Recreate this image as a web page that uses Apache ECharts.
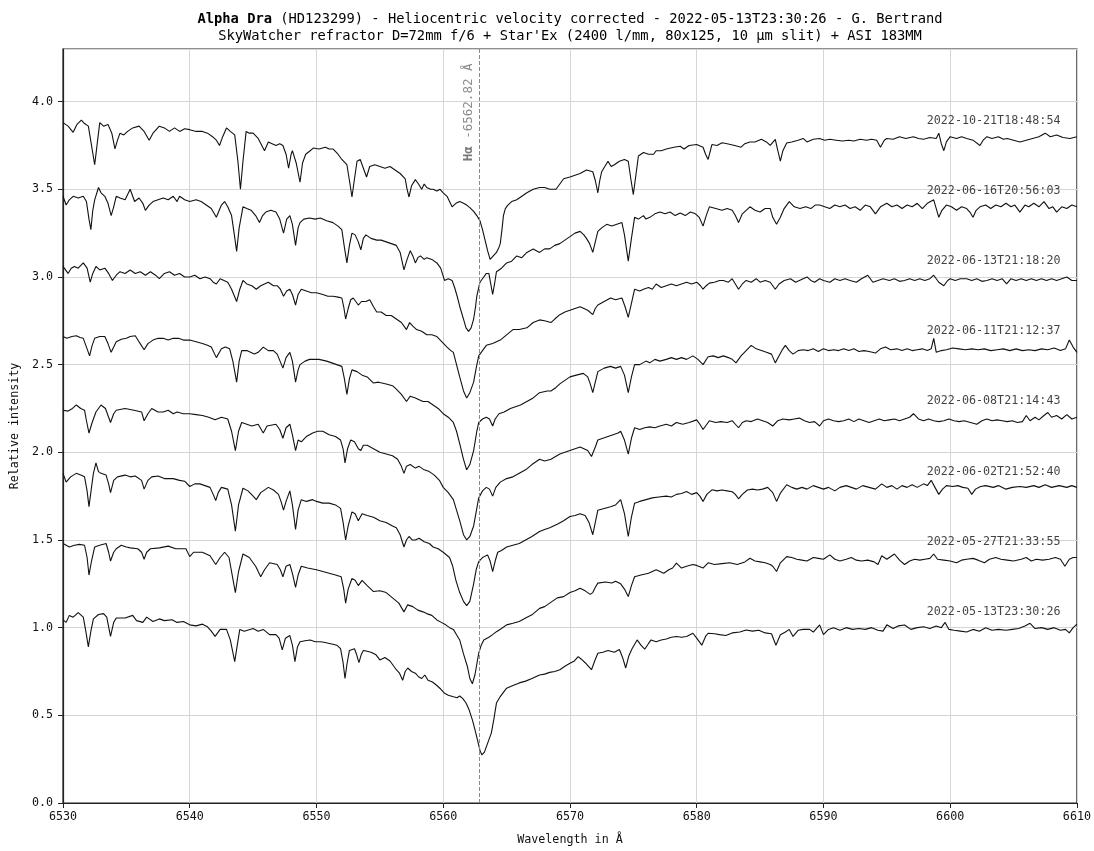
<!DOCTYPE html>
<html>
<head>
<meta charset="utf-8">
<script src="https://cdn.jsdelivr.net/npm/echarts@6/dist/echarts.min.js"></script>
<style>
html,body{margin:0;padding:0;background:#fff;}
#chart{width:1094px;height:851px;}
</style>
</head>
<body>
<div id="chart"></div>
<script>
// ---- data (wavelength in Å, relative intensity) ----
const dates = ["2022-10-21T18:48:54","2022-06-16T20:56:03","2022-06-13T21:18:20","2022-06-11T21:12:37","2022-06-08T21:14:43","2022-06-02T21:52:40","2022-05-27T21:33:55","2022-05-13T23:30:26"];
const offsets = [2.8,2.4,2.0,1.6,1.2,0.8,0.4,0.0];
const xTicks = [6530,6540,6550,6560,6570,6580,6590,6600,6610];
const yTicks = [0,0.5,1,1.5,2,2.5,3,3.5,4];
const halpha = 6562.82;

const spec_2022_10_21 = [[6530,3.88],[6530.4,3.86],[6530.8,3.825],[6531.1,3.87],[6531.45,3.894],[6531.7,3.875],[6532.0,3.86],[6532.25,3.75],[6532.5,3.64],[6532.7,3.76],[6532.9,3.88],[6533.2,3.86],[6533.55,3.87],[6533.85,3.82],[6534.1,3.73],[6534.3,3.78],[6534.5,3.82],[6534.8,3.81],[6535.1,3.83],[6535.5,3.85],[6536.0,3.86],[6536.4,3.83],[6536.8,3.78],[6537.1,3.82],[6537.6,3.86],[6538.0,3.85],[6538.4,3.83],[6538.8,3.85],[6539.2,3.83],[6539.6,3.845],[6540.0,3.84],[6540.5,3.83],[6541.0,3.83],[6541.4,3.82],[6541.8,3.80],[6542.1,3.78],[6542.35,3.75],[6542.6,3.80],[6542.9,3.85],[6543.2,3.83],[6543.55,3.81],[6543.8,3.66],[6544.0,3.50],[6544.2,3.66],[6544.45,3.83],[6544.7,3.82],[6545.0,3.82],[6545.4,3.79],[6545.9,3.72],[6546.2,3.77],[6546.5,3.76],[6546.8,3.75],[6547.1,3.76],[6547.35,3.75],[6547.6,3.70],[6547.8,3.62],[6548.0,3.70],[6548.1,3.72],[6548.4,3.65],[6548.7,3.54],[6548.9,3.65],[6549.15,3.70],[6549.5,3.72],[6549.75,3.735],[6550.2,3.73],[6550.7,3.74],[6551.0,3.73],[6551.3,3.73],[6551.7,3.70],[6552.0,3.67],[6552.4,3.64],[6552.6,3.55],[6552.8,3.456],[6553.0,3.56],[6553.2,3.66],[6553.45,3.67],[6553.7,3.62],[6553.95,3.57],[6554.2,3.63],[6554.6,3.64],[6555.0,3.63],[6555.4,3.62],[6555.8,3.63],[6556.2,3.61],[6556.6,3.59],[6557.0,3.56],[6557.15,3.50],[6557.3,3.456],[6557.5,3.52],[6557.8,3.555],[6558.05,3.53],[6558.3,3.50],[6558.5,3.53],[6558.7,3.51],[6559.0,3.50],[6559.2,3.50],[6559.5,3.49],[6559.75,3.50],[6560.0,3.48],[6560.3,3.46],[6560.5,3.43],[6560.7,3.40],[6561.0,3.42],[6561.3,3.43],[6561.6,3.42],[6561.85,3.41],[6562.1,3.395],[6562.4,3.374],[6562.65,3.35],[6562.9,3.32],[6563.1,3.27],[6563.3,3.21],[6563.5,3.15],[6563.7,3.10],[6563.95,3.12],[6564.2,3.14],[6564.4,3.17],[6564.5,3.19],[6564.65,3.28],[6564.75,3.35],[6564.9,3.39],[6565.1,3.41],[6565.4,3.43],[6565.8,3.44],[6566.2,3.46],[6566.6,3.48],[6567.1,3.50],[6567.6,3.51],[6568.0,3.51],[6568.4,3.50],[6568.9,3.50],[6569.2,3.53],[6569.5,3.56],[6570.0,3.57],[6570.4,3.58],[6570.8,3.59],[6571.3,3.61],[6571.8,3.60],[6572.0,3.55],[6572.2,3.48],[6572.35,3.55],[6572.5,3.60],[6573.0,3.66],[6573.25,3.63],[6573.5,3.64],[6573.9,3.66],[6574.3,3.67],[6574.6,3.66],[6574.8,3.56],[6575.0,3.47],[6575.2,3.58],[6575.4,3.69],[6575.8,3.71],[6576.2,3.70],[6576.6,3.70],[6576.8,3.72],[6577.2,3.72],[6577.6,3.73],[6578.2,3.74],[6578.7,3.745],[6579.0,3.73],[6579.4,3.75],[6580.0,3.755],[6580.5,3.74],[6580.7,3.70],[6580.9,3.67],[6581.2,3.755],[6581.6,3.75],[6582.0,3.765],[6582.4,3.76],[6583.0,3.75],[6583.5,3.74],[6583.8,3.76],[6584.2,3.77],[6584.6,3.77],[6585.1,3.785],[6585.5,3.77],[6585.8,3.75],[6586.2,3.785],[6586.4,3.72],[6586.6,3.66],[6586.8,3.72],[6587.1,3.764],[6587.5,3.77],[6588.0,3.78],[6588.4,3.79],[6588.7,3.77],[6589.2,3.785],[6589.7,3.79],[6590.1,3.78],[6590.5,3.785],[6591.0,3.78],[6591.5,3.775],[6592.0,3.78],[6592.4,3.775],[6592.9,3.785],[6593.4,3.78],[6593.8,3.785],[6594.2,3.78],[6594.5,3.74],[6594.8,3.78],[6595.0,3.79],[6595.5,3.785],[6596.0,3.80],[6596.5,3.79],[6597.1,3.80],[6597.5,3.79],[6597.9,3.785],[6598.4,3.795],[6598.9,3.79],[6599.1,3.82],[6599.3,3.76],[6599.5,3.72],[6599.7,3.77],[6600.0,3.80],[6600.5,3.79],[6600.9,3.80],[6601.3,3.79],[6601.8,3.78],[6602.35,3.75],[6602.6,3.78],[6602.9,3.80],[6603.3,3.79],[6603.8,3.80],[6604.2,3.785],[6604.5,3.79],[6605.0,3.78],[6605.5,3.77],[6606.0,3.78],[6606.5,3.79],[6607.0,3.80],[6607.5,3.82],[6607.9,3.80],[6608.4,3.81],[6608.9,3.795],[6609.45,3.79],[6610,3.80]];

const spec_2022_06_16 = [[6530,3.46],[6530.25,3.41],[6530.5,3.44],[6530.8,3.46],[6531.2,3.45],[6531.6,3.46],[6531.85,3.43],[6532.05,3.33],[6532.2,3.27],[6532.35,3.38],[6532.5,3.44],[6532.8,3.51],[6533.0,3.48],[6533.3,3.46],[6533.55,3.42],[6533.8,3.35],[6534.0,3.40],[6534.2,3.46],[6534.5,3.45],[6534.9,3.44],[6535.3,3.50],[6535.65,3.43],[6536.0,3.45],[6536.3,3.42],[6536.5,3.38],[6536.8,3.41],[6537.1,3.43],[6537.5,3.44],[6537.9,3.45],[6538.3,3.44],[6538.7,3.46],[6539.0,3.43],[6539.2,3.46],[6539.6,3.44],[6540.0,3.43],[6540.5,3.44],[6540.9,3.43],[6541.3,3.41],[6541.7,3.39],[6542.1,3.34],[6542.5,3.41],[6542.75,3.43],[6543.0,3.40],[6543.3,3.35],[6543.5,3.25],[6543.7,3.146],[6543.9,3.28],[6544.2,3.40],[6544.5,3.39],[6544.85,3.38],[6545.2,3.35],[6545.5,3.31],[6545.75,3.35],[6546.0,3.37],[6546.4,3.38],[6546.8,3.37],[6547.1,3.33],[6547.4,3.25],[6547.65,3.33],[6547.9,3.35],[6548.1,3.30],[6548.35,3.18],[6548.55,3.28],[6548.7,3.31],[6549.0,3.33],[6549.45,3.336],[6549.9,3.33],[6550.3,3.336],[6550.8,3.32],[6551.3,3.31],[6551.7,3.29],[6552.0,3.27],[6552.2,3.17],[6552.4,3.08],[6552.6,3.18],[6552.8,3.25],[6553.05,3.24],[6553.3,3.20],[6553.5,3.155],[6553.7,3.22],[6553.9,3.24],[6554.3,3.22],[6554.75,3.21],[6555.1,3.21],[6555.5,3.20],[6555.9,3.19],[6556.3,3.18],[6556.6,3.14],[6556.9,3.04],[6557.15,3.10],[6557.4,3.15],[6557.6,3.12],[6557.8,3.08],[6558.0,3.11],[6558.2,3.12],[6558.5,3.10],[6558.7,3.11],[6559.1,3.10],[6559.5,3.08],[6559.8,3.05],[6560.1,2.98],[6560.4,2.99],[6560.7,2.98],[6560.9,2.94],[6561.1,2.89],[6561.35,2.82],[6561.6,2.76],[6561.8,2.71],[6562.0,2.69],[6562.2,2.71],[6562.4,2.76],[6562.55,2.83],[6562.65,2.89],[6562.9,2.97],[6563.1,2.99],[6563.4,3.02],[6563.6,3.02],[6563.75,2.96],[6563.9,2.90],[6564.05,2.96],[6564.2,3.03],[6564.6,3.05],[6565.0,3.08],[6565.4,3.09],[6565.8,3.12],[6566.2,3.11],[6566.6,3.14],[6567.1,3.16],[6567.6,3.14],[6568.0,3.16],[6568.4,3.16],[6568.8,3.18],[6569.2,3.19],[6569.6,3.21],[6570.0,3.23],[6570.4,3.25],[6570.8,3.26],[6571.1,3.24],[6571.3,3.22],[6571.55,3.19],[6571.8,3.14],[6572.0,3.20],[6572.2,3.26],[6572.5,3.28],[6572.9,3.30],[6573.3,3.29],[6573.7,3.30],[6574.1,3.31],[6574.3,3.24],[6574.6,3.09],[6574.85,3.22],[6575.1,3.34],[6575.4,3.33],[6575.8,3.35],[6576.0,3.33],[6576.3,3.34],[6576.7,3.36],[6577.1,3.37],[6577.5,3.36],[6577.9,3.37],[6578.3,3.35],[6578.7,3.365],[6579.1,3.35],[6579.5,3.37],[6579.9,3.36],[6580.2,3.34],[6580.5,3.29],[6580.75,3.35],[6581.0,3.40],[6581.5,3.39],[6582.0,3.38],[6582.4,3.39],[6582.8,3.38],[6583.05,3.35],[6583.3,3.31],[6583.6,3.36],[6584.2,3.40],[6584.6,3.38],[6585.0,3.37],[6585.4,3.39],[6585.8,3.39],[6586.0,3.34],[6586.3,3.30],[6586.6,3.34],[6586.9,3.39],[6587.3,3.43],[6587.7,3.40],[6588.15,3.39],[6588.6,3.40],[6589.0,3.39],[6589.35,3.41],[6589.7,3.41],[6590.1,3.40],[6590.5,3.39],[6590.9,3.41],[6591.3,3.40],[6591.7,3.41],[6592.1,3.39],[6592.5,3.40],[6592.9,3.38],[6593.3,3.41],[6593.7,3.40],[6594.1,3.36],[6594.5,3.40],[6595.0,3.42],[6595.4,3.40],[6595.8,3.41],[6596.2,3.39],[6596.6,3.41],[6597.0,3.40],[6597.4,3.42],[6597.8,3.39],[6598.2,3.42],[6598.7,3.44],[6598.9,3.39],[6599.1,3.34],[6599.35,3.38],[6599.7,3.41],[6600.1,3.40],[6600.5,3.38],[6600.9,3.40],[6601.3,3.39],[6601.55,3.37],[6601.8,3.34],[6602.05,3.38],[6602.35,3.40],[6602.8,3.41],[6603.2,3.39],[6603.6,3.41],[6604.0,3.40],[6604.4,3.42],[6604.8,3.40],[6605.1,3.41],[6605.5,3.37],[6605.9,3.41],[6606.2,3.40],[6606.6,3.42],[6607.0,3.40],[6607.4,3.43],[6607.8,3.39],[6608.1,3.40],[6608.4,3.37],[6608.8,3.40],[6609.2,3.39],[6609.6,3.41],[6610,3.40]];

const spec_2022_06_13 = [[6530,3.06],[6530.2,3.04],[6530.4,3.02],[6530.65,3.05],[6530.9,3.06],[6531.2,3.05],[6531.6,3.08],[6531.9,3.05],[6532.15,2.97],[6532.35,3.02],[6532.6,3.06],[6532.9,3.04],[6533.3,3.05],[6533.6,3.02],[6533.9,2.98],[6534.2,3.01],[6534.5,3.03],[6534.9,3.02],[6535.3,3.04],[6535.7,3.02],[6536.1,3.03],[6536.5,3.01],[6536.9,3.03],[6537.3,3.01],[6537.6,2.99],[6538.0,3.02],[6538.4,3.03],[6538.8,3.01],[6539.2,3.02],[6539.6,3.00],[6540.0,3.00],[6540.4,3.01],[6540.8,2.99],[6541.2,3.00],[6541.6,2.99],[6541.85,2.97],[6542.1,2.96],[6542.4,2.99],[6542.7,2.98],[6543.0,2.97],[6543.3,2.93],[6543.7,2.86],[6543.95,2.93],[6544.2,2.98],[6544.5,2.96],[6544.9,2.95],[6545.25,2.93],[6545.6,2.95],[6545.9,2.96],[6546.2,2.97],[6546.6,2.95],[6546.9,2.95],[6547.15,2.93],[6547.4,2.89],[6547.65,2.92],[6547.9,2.93],[6548.1,2.90],[6548.35,2.84],[6548.55,2.90],[6548.8,2.93],[6549.2,2.92],[6549.6,2.91],[6550.0,2.91],[6550.5,2.90],[6550.9,2.89],[6551.3,2.89],[6551.7,2.885],[6552.0,2.88],[6552.15,2.83],[6552.3,2.76],[6552.5,2.82],[6552.7,2.87],[6552.9,2.88],[6553.1,2.86],[6553.3,2.84],[6553.55,2.86],[6553.9,2.86],[6554.2,2.87],[6554.5,2.83],[6554.75,2.80],[6555.1,2.80],[6555.5,2.78],[6555.9,2.78],[6556.3,2.76],[6556.7,2.74],[6557.1,2.70],[6557.35,2.74],[6557.6,2.72],[6557.9,2.70],[6558.3,2.69],[6558.7,2.67],[6559.1,2.67],[6559.5,2.66],[6559.9,2.63],[6560.3,2.60],[6560.6,2.58],[6560.8,2.57],[6561.05,2.50],[6561.3,2.43],[6561.6,2.35],[6561.85,2.31],[6562.1,2.34],[6562.4,2.40],[6562.6,2.48],[6562.8,2.55],[6563.0,2.57],[6563.4,2.61],[6563.9,2.62],[6564.5,2.64],[6565.0,2.67],[6565.5,2.70],[6566.0,2.70],[6566.6,2.71],[6567.1,2.74],[6567.6,2.755],[6568.0,2.75],[6568.5,2.74],[6568.8,2.76],[6569.2,2.785],[6569.6,2.80],[6570.0,2.81],[6570.4,2.82],[6570.8,2.83],[6571.1,2.82],[6571.4,2.81],[6571.8,2.785],[6572.0,2.82],[6572.2,2.84],[6572.7,2.86],[6573.2,2.88],[6573.6,2.87],[6574.1,2.88],[6574.35,2.83],[6574.6,2.77],[6574.85,2.85],[6575.1,2.93],[6575.5,2.92],[6575.8,2.93],[6576.2,2.94],[6576.5,2.93],[6576.8,2.96],[6577.2,2.94],[6577.6,2.95],[6578.0,2.96],[6578.4,2.95],[6578.8,2.96],[6579.2,2.97],[6579.6,2.96],[6580.0,2.97],[6580.3,2.95],[6580.5,2.93],[6580.75,2.95],[6581.0,2.965],[6581.4,2.97],[6581.8,2.98],[6582.1,2.98],[6582.5,2.97],[6582.8,2.99],[6583.05,2.96],[6583.3,2.93],[6583.6,2.96],[6583.9,2.98],[6584.3,2.97],[6584.7,2.99],[6585.0,2.97],[6585.4,2.98],[6585.8,2.97],[6586.0,2.95],[6586.2,2.93],[6586.5,2.96],[6586.9,2.98],[6587.4,2.99],[6587.8,2.97],[6588.1,2.98],[6588.7,3.00],[6589.0,2.98],[6589.3,2.97],[6589.7,2.99],[6590.0,2.98],[6590.5,2.97],[6590.9,2.99],[6591.3,2.98],[6591.7,2.99],[6592.1,2.98],[6592.6,2.97],[6593.0,2.99],[6593.5,3.01],[6593.9,2.97],[6594.3,2.98],[6594.7,2.99],[6595.2,2.98],[6595.6,2.99],[6596.0,2.975],[6596.4,2.98],[6596.8,2.99],[6597.2,2.98],[6597.6,2.99],[6598.0,2.98],[6598.4,2.99],[6598.7,3.01],[6599.1,2.97],[6599.5,2.95],[6599.8,2.98],[6600.0,2.99],[6600.4,2.98],[6600.8,2.99],[6601.3,2.99],[6601.7,2.98],[6602.1,2.99],[6602.5,2.975],[6602.9,2.98],[6603.3,2.99],[6603.7,2.98],[6604.1,2.99],[6604.45,2.96],[6604.8,2.99],[6605.2,2.98],[6605.6,2.99],[6606.0,2.98],[6606.4,2.99],[6606.8,2.98],[6607.2,2.99],[6607.6,2.98],[6608.0,2.99],[6608.4,2.98],[6608.8,2.99],[6609.2,3.00],[6609.6,2.98],[6610,2.98]];

const spec_2022_06_11 = [[6530,2.66],[6530.3,2.65],[6530.7,2.66],[6531.05,2.665],[6531.35,2.655],[6531.6,2.65],[6531.85,2.60],[6532.1,2.55],[6532.3,2.61],[6532.5,2.65],[6532.9,2.66],[6533.3,2.66],[6533.55,2.62],[6533.8,2.57],[6534.0,2.60],[6534.2,2.63],[6534.6,2.645],[6535.0,2.65],[6535.3,2.66],[6535.7,2.665],[6536.0,2.63],[6536.4,2.585],[6536.7,2.62],[6537.1,2.64],[6537.5,2.65],[6537.9,2.65],[6538.3,2.64],[6538.7,2.65],[6539.1,2.65],[6539.5,2.64],[6540.0,2.64],[6540.5,2.63],[6541.0,2.62],[6541.4,2.61],[6541.7,2.60],[6542.1,2.54],[6542.5,2.59],[6542.8,2.60],[6543.15,2.59],[6543.4,2.52],[6543.7,2.40],[6543.9,2.52],[6544.1,2.58],[6544.5,2.58],[6544.8,2.57],[6545.1,2.56],[6545.4,2.57],[6545.8,2.60],[6546.2,2.58],[6546.6,2.58],[6546.9,2.56],[6547.35,2.48],[6547.6,2.54],[6547.9,2.57],[6548.1,2.52],[6548.35,2.40],[6548.55,2.47],[6548.7,2.50],[6549.1,2.52],[6549.45,2.53],[6549.75,2.53],[6550.2,2.53],[6550.8,2.52],[6551.2,2.51],[6551.6,2.50],[6552.0,2.49],[6552.2,2.42],[6552.4,2.33],[6552.6,2.42],[6552.8,2.47],[6553.2,2.46],[6553.6,2.44],[6554.0,2.43],[6554.5,2.395],[6554.9,2.40],[6555.5,2.39],[6556.0,2.38],[6556.3,2.36],[6556.7,2.33],[6557.1,2.29],[6557.4,2.32],[6557.8,2.31],[6558.1,2.30],[6558.4,2.29],[6558.8,2.29],[6559.2,2.27],[6559.6,2.25],[6560.0,2.22],[6560.4,2.20],[6560.8,2.17],[6561.05,2.12],[6561.3,2.05],[6561.6,1.96],[6561.85,1.90],[6562.1,1.93],[6562.4,2.01],[6562.65,2.12],[6562.8,2.17],[6563.1,2.19],[6563.4,2.20],[6563.65,2.19],[6563.9,2.15],[6564.1,2.19],[6564.4,2.22],[6564.8,2.23],[6565.3,2.25],[6565.7,2.26],[6566.1,2.27],[6566.6,2.29],[6567.1,2.31],[6567.6,2.34],[6568.2,2.35],[6568.5,2.35],[6568.9,2.37],[6569.2,2.39],[6569.6,2.41],[6570.0,2.43],[6570.5,2.44],[6571.05,2.45],[6571.4,2.43],[6571.6,2.39],[6571.8,2.34],[6572.0,2.40],[6572.2,2.46],[6572.7,2.48],[6573.2,2.49],[6573.6,2.48],[6574.0,2.49],[6574.3,2.44],[6574.6,2.34],[6574.85,2.43],[6575.1,2.50],[6575.5,2.50],[6576.0,2.52],[6576.3,2.51],[6576.7,2.53],[6577.1,2.52],[6577.6,2.53],[6578.0,2.54],[6578.4,2.53],[6578.8,2.54],[6579.2,2.53],[6579.7,2.55],[6580.1,2.53],[6580.5,2.50],[6580.9,2.545],[6581.3,2.55],[6581.7,2.54],[6582.1,2.55],[6582.5,2.54],[6582.8,2.53],[6583.1,2.51],[6583.5,2.55],[6583.9,2.58],[6584.3,2.61],[6584.7,2.59],[6585.1,2.58],[6585.5,2.57],[6585.9,2.56],[6586.2,2.51],[6586.5,2.55],[6586.8,2.59],[6587.0,2.61],[6587.3,2.58],[6587.6,2.56],[6588.0,2.58],[6588.4,2.585],[6588.8,2.58],[6589.2,2.59],[6589.6,2.575],[6590.0,2.59],[6590.4,2.58],[6590.8,2.585],[6591.2,2.58],[6591.6,2.59],[6592.0,2.58],[6592.4,2.59],[6592.8,2.575],[6593.2,2.58],[6593.6,2.575],[6594.1,2.566],[6594.5,2.59],[6594.9,2.60],[6595.3,2.585],[6595.8,2.59],[6596.2,2.58],[6596.6,2.59],[6597.0,2.58],[6597.4,2.585],[6597.8,2.59],[6598.2,2.58],[6598.5,2.59],[6598.7,2.65],[6598.9,2.57],[6599.3,2.58],[6599.7,2.585],[6600.2,2.595],[6600.7,2.59],[6601.2,2.585],[6601.7,2.59],[6602.2,2.585],[6602.7,2.59],[6603.2,2.58],[6603.7,2.585],[6604.2,2.59],[6604.7,2.58],[6605.2,2.59],[6605.7,2.58],[6606.2,2.585],[6606.7,2.58],[6607.2,2.59],[6607.7,2.585],[6608.2,2.595],[6608.7,2.58],[6609.1,2.59],[6609.4,2.64],[6609.7,2.60],[6610,2.57]];

const spec_2022_06_08 = [[6530,2.24],[6530.4,2.235],[6530.75,2.25],[6531.05,2.27],[6531.4,2.25],[6531.7,2.24],[6531.85,2.18],[6532.05,2.11],[6532.3,2.17],[6532.6,2.23],[6533.0,2.27],[6533.35,2.25],[6533.55,2.21],[6533.75,2.17],[6534.0,2.22],[6534.2,2.24],[6534.9,2.25],[6535.6,2.24],[6536.2,2.23],[6536.4,2.18],[6536.7,2.22],[6537.0,2.25],[6537.5,2.23],[6537.9,2.23],[6538.3,2.24],[6538.7,2.22],[6539.0,2.23],[6539.5,2.22],[6540.0,2.22],[6540.5,2.215],[6541.0,2.21],[6541.5,2.20],[6542.0,2.185],[6542.5,2.20],[6543.0,2.19],[6543.3,2.12],[6543.6,2.01],[6543.85,2.12],[6544.1,2.17],[6544.5,2.16],[6544.9,2.15],[6545.4,2.16],[6545.8,2.11],[6546.1,2.15],[6546.8,2.16],[6547.1,2.13],[6547.35,2.08],[6547.6,2.14],[6547.9,2.16],[6548.1,2.10],[6548.35,2.01],[6548.55,2.07],[6548.8,2.06],[6549.2,2.09],[6549.7,2.11],[6550.1,2.12],[6550.5,2.12],[6551.0,2.10],[6551.5,2.09],[6551.9,2.07],[6552.1,2.02],[6552.25,1.94],[6552.45,2.02],[6552.7,2.07],[6553.0,2.06],[6553.3,2.02],[6553.5,2.01],[6553.7,2.04],[6554.0,2.04],[6554.5,2.02],[6555.0,2.00],[6555.5,1.99],[6556.0,1.98],[6556.4,1.96],[6556.7,1.92],[6556.9,1.88],[6557.1,1.92],[6557.4,1.93],[6557.8,1.91],[6558.1,1.92],[6558.5,1.90],[6558.9,1.89],[6559.3,1.87],[6559.7,1.84],[6560.0,1.80],[6560.4,1.77],[6560.8,1.73],[6561.05,1.67],[6561.3,1.61],[6561.6,1.53],[6561.85,1.50],[6562.1,1.52],[6562.4,1.58],[6562.6,1.66],[6562.8,1.74],[6563.1,1.78],[6563.4,1.80],[6563.65,1.79],[6563.9,1.75],[6564.15,1.80],[6564.5,1.83],[6565.0,1.85],[6565.5,1.86],[6566.0,1.88],[6566.5,1.90],[6567.0,1.93],[6567.6,1.96],[6568.0,1.95],[6568.5,1.96],[6569.2,1.99],[6570.0,2.01],[6570.4,2.02],[6570.8,2.03],[6571.1,2.02],[6571.4,2.01],[6571.7,1.976],[6572.0,2.03],[6572.2,2.07],[6572.6,2.08],[6573.0,2.09],[6573.4,2.10],[6573.8,2.11],[6574.0,2.12],[6574.3,2.07],[6574.6,1.99],[6574.85,2.08],[6575.1,2.14],[6575.5,2.13],[6575.9,2.14],[6576.3,2.145],[6576.7,2.14],[6577.1,2.15],[6577.6,2.16],[6578.0,2.15],[6578.4,2.17],[6578.9,2.16],[6579.4,2.17],[6580.0,2.185],[6580.25,2.16],[6580.5,2.13],[6580.8,2.16],[6581.0,2.18],[6581.5,2.17],[6581.9,2.175],[6582.4,2.17],[6582.8,2.18],[6583.05,2.16],[6583.3,2.14],[6583.6,2.17],[6583.9,2.18],[6584.3,2.175],[6584.8,2.19],[6585.2,2.18],[6585.6,2.17],[6586.0,2.15],[6586.4,2.18],[6586.8,2.19],[6587.3,2.185],[6587.7,2.19],[6588.1,2.195],[6588.5,2.18],[6588.9,2.17],[6589.3,2.175],[6589.7,2.15],[6590.0,2.18],[6590.4,2.19],[6590.8,2.18],[6591.2,2.175],[6591.6,2.18],[6592.0,2.19],[6592.4,2.175],[6592.8,2.19],[6593.2,2.18],[6593.6,2.17],[6594.0,2.18],[6594.4,2.19],[6594.8,2.18],[6595.2,2.185],[6595.6,2.19],[6596.0,2.18],[6596.4,2.19],[6596.8,2.20],[6597.1,2.22],[6597.5,2.19],[6597.9,2.18],[6598.3,2.19],[6598.7,2.18],[6599.1,2.175],[6599.5,2.18],[6599.9,2.19],[6600.3,2.18],[6600.7,2.175],[6601.1,2.18],[6601.6,2.17],[6602.1,2.16],[6602.5,2.18],[6602.9,2.19],[6603.3,2.18],[6603.7,2.185],[6604.1,2.18],[6604.5,2.175],[6604.9,2.18],[6605.3,2.17],[6605.7,2.175],[6606.0,2.21],[6606.3,2.18],[6606.7,2.20],[6607.0,2.185],[6607.4,2.21],[6607.7,2.227],[6608.0,2.20],[6608.4,2.21],[6608.8,2.19],[6609.2,2.215],[6609.6,2.19],[6610,2.20]];

const spec_2022_06_02 = [[6530,1.88],[6530.25,1.83],[6530.6,1.86],[6531.05,1.88],[6531.4,1.87],[6531.7,1.86],[6531.9,1.78],[6532.05,1.69],[6532.25,1.80],[6532.4,1.88],[6532.6,1.94],[6532.8,1.89],[6533.0,1.88],[6533.4,1.87],[6533.6,1.82],[6533.75,1.77],[6534.0,1.84],[6534.3,1.86],[6534.9,1.87],[6535.3,1.86],[6535.7,1.865],[6536.2,1.84],[6536.4,1.79],[6536.7,1.84],[6537.0,1.86],[6537.5,1.865],[6538.0,1.85],[6538.7,1.85],[6539.2,1.84],[6539.6,1.835],[6540.0,1.805],[6540.4,1.82],[6540.8,1.82],[6541.2,1.81],[6541.6,1.80],[6541.85,1.76],[6542.05,1.725],[6542.25,1.77],[6542.5,1.80],[6543.0,1.79],[6543.3,1.70],[6543.6,1.55],[6543.85,1.70],[6544.2,1.795],[6544.6,1.78],[6545.0,1.75],[6545.25,1.73],[6545.6,1.77],[6546.2,1.80],[6546.6,1.785],[6547.0,1.76],[6547.2,1.72],[6547.4,1.67],[6547.6,1.72],[6547.9,1.78],[6548.1,1.70],[6548.35,1.56],[6548.55,1.67],[6548.8,1.73],[6549.2,1.72],[6549.7,1.73],[6550.0,1.72],[6550.5,1.71],[6551.0,1.71],[6551.5,1.70],[6551.9,1.68],[6552.1,1.60],[6552.3,1.50],[6552.5,1.58],[6552.8,1.66],[6553.05,1.65],[6553.3,1.61],[6553.6,1.65],[6554.0,1.64],[6554.5,1.63],[6555.0,1.61],[6555.5,1.60],[6556.0,1.58],[6556.3,1.57],[6556.6,1.53],[6556.9,1.46],[6557.1,1.50],[6557.3,1.52],[6557.55,1.50],[6557.8,1.50],[6558.1,1.51],[6558.5,1.49],[6558.9,1.48],[6559.2,1.46],[6559.6,1.45],[6560.0,1.43],[6560.5,1.40],[6560.75,1.35],[6561.0,1.27],[6561.3,1.20],[6561.6,1.15],[6561.85,1.126],[6562.1,1.15],[6562.4,1.25],[6562.6,1.33],[6562.8,1.377],[6563.1,1.40],[6563.5,1.415],[6563.7,1.38],[6563.9,1.32],[6564.1,1.38],[6564.3,1.43],[6564.6,1.44],[6565.0,1.46],[6565.5,1.47],[6566.0,1.48],[6566.5,1.50],[6567.0,1.52],[6567.6,1.548],[6568.0,1.56],[6568.4,1.57],[6569.0,1.59],[6569.5,1.61],[6570.0,1.634],[6570.4,1.64],[6570.8,1.65],[6571.2,1.64],[6571.5,1.60],[6571.8,1.53],[6572.0,1.60],[6572.2,1.67],[6572.7,1.68],[6573.2,1.69],[6573.6,1.70],[6574.0,1.73],[6574.3,1.65],[6574.6,1.52],[6574.85,1.63],[6575.1,1.71],[6575.5,1.72],[6576.0,1.73],[6576.5,1.74],[6577.0,1.745],[6577.6,1.75],[6578.0,1.745],[6578.4,1.76],[6578.8,1.765],[6579.2,1.776],[6579.6,1.76],[6580.0,1.77],[6580.25,1.75],[6580.5,1.72],[6580.8,1.76],[6581.2,1.786],[6581.6,1.78],[6582.0,1.785],[6582.4,1.78],[6582.8,1.775],[6583.05,1.76],[6583.3,1.735],[6583.6,1.76],[6584.0,1.785],[6584.4,1.79],[6584.8,1.785],[6585.2,1.79],[6585.6,1.80],[6586.0,1.77],[6586.3,1.72],[6586.6,1.767],[6587.1,1.815],[6587.5,1.80],[6587.9,1.79],[6588.3,1.80],[6588.7,1.79],[6589.2,1.81],[6589.6,1.80],[6590.0,1.79],[6590.4,1.80],[6590.9,1.78],[6591.3,1.80],[6591.8,1.81],[6592.2,1.80],[6592.6,1.79],[6593.1,1.81],[6593.6,1.80],[6594.1,1.79],[6594.6,1.82],[6595.0,1.80],[6595.4,1.81],[6595.8,1.79],[6596.2,1.81],[6596.6,1.80],[6597.0,1.815],[6597.4,1.80],[6597.9,1.82],[6598.2,1.81],[6598.5,1.84],[6598.8,1.80],[6599.1,1.76],[6599.4,1.79],[6599.7,1.81],[6600.2,1.805],[6600.6,1.81],[6601.0,1.80],[6601.4,1.795],[6601.7,1.76],[6602.0,1.79],[6602.4,1.805],[6602.8,1.81],[6603.4,1.80],[6603.8,1.81],[6604.4,1.79],[6604.9,1.80],[6605.5,1.805],[6606.0,1.80],[6606.6,1.81],[6607.0,1.80],[6607.5,1.815],[6608.0,1.80],[6608.6,1.81],[6609.2,1.80],[6609.6,1.81],[6610,1.80]];

const spec_2022_05_27 = [[6530,1.48],[6530.5,1.46],[6530.9,1.47],[6531.3,1.475],[6531.7,1.47],[6531.9,1.40],[6532.05,1.30],[6532.25,1.38],[6532.5,1.46],[6532.9,1.47],[6533.4,1.48],[6533.6,1.43],[6533.75,1.38],[6534.0,1.43],[6534.2,1.45],[6534.6,1.47],[6535.0,1.46],[6535.3,1.455],[6535.9,1.45],[6536.2,1.43],[6536.4,1.39],[6536.6,1.43],[6536.9,1.45],[6537.6,1.455],[6538.3,1.465],[6538.9,1.45],[6539.7,1.45],[6540.0,1.405],[6540.3,1.43],[6541.0,1.43],[6541.6,1.41],[6542.05,1.36],[6542.4,1.40],[6542.75,1.43],[6543.1,1.40],[6543.35,1.30],[6543.6,1.20],[6543.85,1.32],[6544.2,1.42],[6544.7,1.40],[6545.2,1.35],[6545.6,1.29],[6545.9,1.33],[6546.3,1.37],[6546.9,1.36],[6547.15,1.33],[6547.35,1.29],[6547.6,1.35],[6547.9,1.36],[6548.1,1.31],[6548.35,1.23],[6548.55,1.30],[6548.8,1.35],[6549.3,1.34],[6550.0,1.33],[6550.5,1.32],[6551.0,1.31],[6551.5,1.30],[6551.95,1.29],[6552.15,1.22],[6552.3,1.14],[6552.5,1.22],[6552.8,1.28],[6553.05,1.27],[6553.3,1.24],[6553.6,1.27],[6554.0,1.24],[6554.5,1.206],[6555.0,1.21],[6555.5,1.20],[6556.0,1.17],[6556.5,1.14],[6556.9,1.09],[6557.2,1.13],[6557.6,1.12],[6558.0,1.10],[6558.4,1.09],[6558.7,1.08],[6559.1,1.07],[6559.5,1.044],[6559.85,1.03],[6560.2,1.016],[6560.5,1.00],[6560.8,0.99],[6561.05,0.96],[6561.3,0.93],[6561.6,0.85],[6561.9,0.78],[6562.1,0.71],[6562.3,0.68],[6562.5,0.73],[6562.8,0.854],[6563.0,0.90],[6563.2,0.93],[6563.6,0.945],[6563.9,0.96],[6564.2,0.977],[6564.6,0.995],[6565.0,1.016],[6565.5,1.025],[6566.0,1.035],[6566.5,1.055],[6567.0,1.073],[6567.6,1.11],[6568.0,1.12],[6568.6,1.15],[6569.0,1.17],[6569.5,1.177],[6570.0,1.20],[6570.4,1.21],[6570.8,1.225],[6571.2,1.21],[6571.6,1.19],[6571.8,1.20],[6572.0,1.23],[6572.2,1.254],[6572.8,1.26],[6573.3,1.255],[6573.6,1.265],[6574.0,1.25],[6574.3,1.22],[6574.6,1.177],[6574.85,1.24],[6575.1,1.29],[6575.6,1.30],[6576.2,1.31],[6576.8,1.33],[6577.4,1.31],[6577.8,1.33],[6578.1,1.34],[6578.4,1.368],[6578.8,1.34],[6579.2,1.35],[6579.7,1.36],[6580.0,1.355],[6580.5,1.34],[6580.9,1.37],[6581.4,1.36],[6582.0,1.365],[6582.6,1.37],[6583.2,1.36],[6583.8,1.375],[6584.2,1.396],[6584.6,1.38],[6585.0,1.375],[6585.4,1.37],[6585.8,1.36],[6586.0,1.35],[6586.3,1.32],[6586.6,1.37],[6587.1,1.405],[6587.5,1.40],[6587.9,1.39],[6588.3,1.385],[6588.7,1.38],[6589.2,1.40],[6589.6,1.395],[6590.0,1.39],[6590.5,1.415],[6590.9,1.39],[6591.3,1.38],[6591.8,1.39],[6592.2,1.40],[6592.6,1.385],[6593.0,1.38],[6593.5,1.385],[6594.0,1.375],[6594.3,1.36],[6594.6,1.41],[6595.0,1.39],[6595.6,1.42],[6596.0,1.385],[6596.4,1.36],[6596.8,1.38],[6597.2,1.39],[6597.6,1.385],[6598.0,1.39],[6598.4,1.395],[6598.7,1.42],[6599.0,1.39],[6599.5,1.385],[6600.0,1.38],[6600.5,1.37],[6600.9,1.385],[6601.3,1.39],[6601.8,1.395],[6602.2,1.385],[6602.7,1.37],[6603.1,1.39],[6603.6,1.40],[6604.0,1.39],[6604.5,1.385],[6605.0,1.38],[6605.6,1.39],[6606.0,1.40],[6606.4,1.38],[6606.8,1.39],[6607.3,1.385],[6607.8,1.39],[6608.3,1.40],[6608.7,1.39],[6609.05,1.35],[6609.4,1.39],[6609.7,1.40],[6610,1.40]];

const spec_2022_05_13 = [[6530,1.044],[6530.25,1.03],[6530.5,1.07],[6530.8,1.06],[6531.2,1.086],[6531.6,1.06],[6531.8,0.98],[6532.0,0.89],[6532.2,0.98],[6532.4,1.05],[6532.8,1.075],[6533.2,1.08],[6533.45,1.06],[6533.75,0.95],[6534.0,1.03],[6534.2,1.055],[6534.9,1.055],[6535.5,1.07],[6535.8,1.04],[6536.3,1.03],[6536.6,1.06],[6537.1,1.035],[6537.6,1.05],[6538.0,1.04],[6538.6,1.045],[6539.0,1.03],[6539.5,1.035],[6540.0,1.016],[6540.5,1.01],[6541.0,1.02],[6541.4,1.005],[6541.7,0.98],[6542.0,0.95],[6542.4,0.99],[6542.9,0.99],[6543.2,0.93],[6543.55,0.806],[6543.75,0.90],[6543.95,0.99],[6544.3,0.98],[6545.0,0.995],[6545.4,0.98],[6545.8,0.99],[6546.3,0.96],[6546.8,0.96],[6547.05,0.94],[6547.3,0.873],[6547.55,0.94],[6547.9,0.955],[6548.1,0.90],[6548.3,0.806],[6548.5,0.89],[6548.7,0.92],[6549.1,0.925],[6549.5,0.93],[6549.9,0.92],[6550.3,0.92],[6550.7,0.915],[6551.0,0.91],[6551.3,0.905],[6551.6,0.90],[6551.9,0.88],[6552.1,0.80],[6552.25,0.71],[6552.4,0.79],[6552.6,0.87],[6553.0,0.88],[6553.15,0.85],[6553.35,0.80],[6553.55,0.85],[6553.7,0.87],[6554.0,0.865],[6554.3,0.86],[6554.7,0.845],[6555.0,0.816],[6555.4,0.83],[6555.8,0.81],[6556.3,0.76],[6556.55,0.74],[6556.8,0.70],[6557.0,0.75],[6557.2,0.77],[6557.5,0.75],[6557.8,0.74],[6558.05,0.72],[6558.3,0.71],[6558.55,0.73],[6558.8,0.70],[6559.15,0.69],[6559.5,0.67],[6559.8,0.65],[6560.1,0.626],[6560.4,0.615],[6560.8,0.606],[6561.1,0.60],[6561.3,0.61],[6561.55,0.595],[6561.8,0.57],[6562.05,0.53],[6562.3,0.474],[6562.5,0.42],[6562.7,0.36],[6562.9,0.30],[6563.05,0.274],[6563.25,0.29],[6563.4,0.32],[6563.6,0.36],[6563.8,0.40],[6564.0,0.48],[6564.2,0.57],[6564.5,0.607],[6565.0,0.655],[6565.5,0.67],[6566.0,0.685],[6566.5,0.695],[6567.0,0.71],[6567.6,0.73],[6568.0,0.735],[6568.4,0.745],[6568.8,0.75],[6569.2,0.76],[6569.6,0.78],[6570.0,0.797],[6570.35,0.81],[6570.65,0.835],[6570.9,0.82],[6571.2,0.80],[6571.45,0.78],[6571.7,0.76],[6571.95,0.81],[6572.2,0.854],[6572.6,0.86],[6573.0,0.87],[6573.5,0.86],[6573.9,0.875],[6574.15,0.83],[6574.4,0.77],[6574.65,0.84],[6574.9,0.88],[6575.3,0.93],[6575.6,0.90],[6575.9,0.877],[6576.2,0.91],[6576.4,0.93],[6576.8,0.92],[6577.2,0.93],[6577.6,0.935],[6578.0,0.945],[6578.4,0.95],[6578.8,0.945],[6579.2,0.95],[6579.7,0.968],[6580.0,0.94],[6580.4,0.90],[6580.7,0.95],[6580.9,0.968],[6581.4,0.965],[6581.8,0.96],[6582.3,0.955],[6582.8,0.97],[6583.4,0.975],[6583.9,0.987],[6584.4,0.98],[6584.9,0.985],[6585.4,0.97],[6585.9,0.965],[6586.25,0.90],[6586.6,0.96],[6587.0,0.975],[6587.3,0.99],[6587.6,0.95],[6588.0,0.985],[6588.4,0.99],[6588.9,0.99],[6589.2,0.975],[6589.7,1.016],[6590.0,0.96],[6590.4,0.99],[6590.8,1.0],[6591.3,0.985],[6591.8,1.0],[6592.3,0.99],[6592.8,0.995],[6593.3,0.99],[6593.8,1.0],[6594.3,0.985],[6594.7,0.98],[6595.0,1.016],[6595.5,0.995],[6595.9,1.01],[6596.4,1.015],[6596.9,0.99],[6597.4,1.00],[6597.9,1.005],[6598.4,0.995],[6598.9,1.01],[6599.3,1.00],[6599.6,1.03],[6599.9,0.99],[6600.3,0.985],[6600.8,0.98],[6601.3,0.975],[6601.8,0.99],[6602.3,0.98],[6602.8,1.00],[6603.3,0.985],[6603.8,0.99],[6604.4,0.985],[6604.9,0.99],[6605.4,0.995],[6605.9,1.01],[6606.3,1.025],[6606.7,0.995],[6607.2,1.00],[6607.7,0.99],[6608.2,1.00],[6608.7,0.985],[6609.1,0.99],[6609.4,0.97],[6609.7,1.00],[6610,1.02]];

const spectra = [spec_2022_10_21, spec_2022_06_16, spec_2022_06_13, spec_2022_06_11, spec_2022_06_08, spec_2022_06_02, spec_2022_05_27, spec_2022_05_13];
const labelX = 6608.7;      // right end of the date labels (Å)
const labelLift = 1.09;     // date label height above each offset
const hLabelTop = 4.24;     // where the Hα annotation ends (data units)

// ---- chart ----
const FONT = 'DejaVu Sans Mono';
const chart = echarts.init(document.getElementById('chart'), null, {renderer: 'canvas'});

const series = spectra.map((d, i) => ({
  name: dates[i],
  type: 'line',
  data: d,
  showSymbol: false,
  symbol: 'none',
  silent: true,
  lineStyle: {color: '#111', width: 1.1},
  z: 3
}));

// dashed Hα reference line (full height)
series[0].markLine = {
  silent: true,
  symbol: ['none', 'none'],
  label: {show: false},
  lineStyle: {color: '#8c8c8c', type: [4, 2], width: 1},
  data: [{xAxis: halpha}]
};

// invisible carrier line for the rotated Hα annotation
series[1].markLine = {
  silent: true,
  symbol: ['none', 'none'],
  lineStyle: {color: 'rgba(0,0,0,0)', width: 1},
  label: {
    show: true,
    position: 'insideEndTop',
    formatter: '{b|Hα} -6562.82 Å',
    color: '#8c8c8c',
    fontFamily: FONT,
    fontSize: 12.5,
    distance: 4,
    rich: {b: {fontWeight: 'bold', color: '#7a7a7a', fontFamily: FONT, fontSize: 12.5}}
  },
  data: [[{coord: [halpha, 0]}, {coord: [halpha, hLabelTop]}]]
};

series.push({
  type: 'scatter',
  symbolSize: 0,
  silent: true,
  data: dates.map((d, i) => [labelX, offsets[i] + labelLift, d]),
  label: {
    show: true,
    position: 'left',
    distance: 0,
    formatter: p => p.data[2],
    color: '#111',
    fontFamily: FONT,
    fontSize: 11.7
  },
  z: 5
});

chart.setOption({
  animation: false,
  backgroundColor: '#fff',
  title: {
    text: '{b|Alpha Dra} (HD123299) - Heliocentric velocity corrected - 2022-05-13T23:30:26 - G. Bertrand',
    subtext: "SkyWatcher refractor D=72mm f/6 + Star'Ex (2400 l/mm, 80x125, 10 µm slit) + ASI 183MM",
    left: 565,
    top: 6,
    textAlign: 'center',
    itemGap: 0,
    textStyle: {
      fontFamily: FONT, fontSize: 13.75, fontWeight: 'normal', color: '#000', lineHeight: 17,
      rich: {b: {fontFamily: FONT, fontSize: 13.75, fontWeight: 'bold', color: '#000', lineHeight: 17}}
    },
    subtextStyle: {fontFamily: FONT, fontSize: 13.75, color: '#000', lineHeight: 17}
  },
  grid: {
    left: 63, right: 17, top: 49, bottom: 48,
    show: true, borderColor: '#222', borderWidth: 1.2, backgroundColor: 'transparent'
  },
  xAxis: {
    type: 'value',
    min: xTicks[0], max: xTicks[xTicks.length - 1], interval: 10,
    name: 'Wavelength in Å',
    nameLocation: 'middle',
    nameGap: 31,
    nameTextStyle: {fontFamily: FONT, fontSize: 11.7, color: '#111'},
    axisLine: {show: true, lineStyle: {color: '#222', width: 1.2}},
    axisTick: {show: true, inside: false, length: 5, lineStyle: {color: '#222'}},
    axisLabel: {fontFamily: FONT, fontSize: 11.7, color: '#111', margin: 8, formatter: v => String(v)},
    splitLine: {show: true, lineStyle: {color: '#d6d6d6', width: 1}}
  },
  yAxis: {
    type: 'value',
    min: 0, max: 4.3, interval: 0.5,
    name: 'Relative intensity',
    nameLocation: 'middle',
    nameGap: 41,
    nameTextStyle: {fontFamily: FONT, fontSize: 11.7, color: '#111'},
    axisLine: {show: true, lineStyle: {color: '#222', width: 1.2}},
    axisTick: {show: true, inside: false, length: 5, lineStyle: {color: '#222'}},
    axisLabel: {
      fontFamily: FONT, fontSize: 11.7, color: '#111', margin: 10,
      showMaxLabel: false,
      formatter: v => (yTicks.some(t => Math.abs(t - v) < 1e-9) ? v.toFixed(1) : '')
    },
    splitLine: {show: true, lineStyle: {color: '#d6d6d6', width: 1}}
  },
  series: series
});
</script>
</body>
</html>
